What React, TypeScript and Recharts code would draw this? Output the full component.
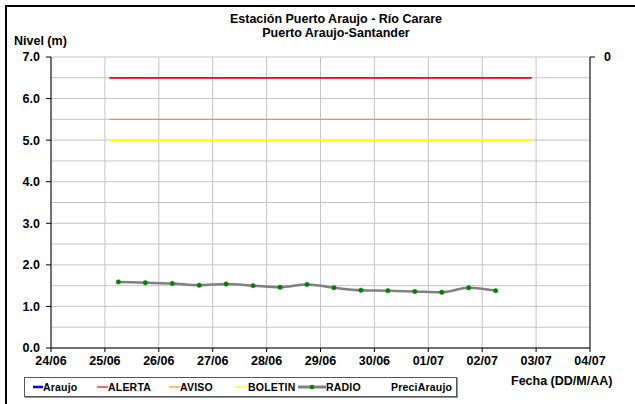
import React from 'react';
import {
    LineChart, Line, XAxis, YAxis, CartesianGrid,
} from 'recharts';

// Etiquetas del eje X (un día por división)
const dayLabels = ['24/06', '25/06', '26/06', '27/06', '28/06', '29/06', '30/06', '01/07', '02/07', '03/07', '04/07'];
const levelTicks = [0, 1, 2, 3, 4, 5, 6, 7];
const minorLevels = [0.5, 1.5, 2.5, 3.5, 4.5, 5.5, 6.5];

// Lecturas RADIO
const radioTimes = [
    '25/06 06:00', '25/06 18:00', '26/06 06:00', '26/06 18:00', '27/06 06:00',
    '27/06 18:00', '28/06 06:00', '28/06 18:00', '29/06 06:00', '29/06 18:00',
    '30/06 06:00', '30/06 18:00', '01/07 06:00', '01/07 18:00', '02/07 06:00',
];
const radioLevels = [1.59, 1.57, 1.55, 1.51, 1.54, 1.50, 1.46, 1.53, 1.45, 1.39, 1.38, 1.36, 1.34, 1.45, 1.38];

// Umbrales
const thresholdTimes = ['25/06 02:00', '02/07 22:00'];
const alerta = 6.5;
const aviso = 5.5;
const boletin = 5.0;

const toDays = (s: string) => {
    const [date, time] = s.split(' ');
    const [d, m] = date.split('/').map(Number);
    const [h, min] = (time || '00:00').split(':').map(Number);
    const base = Date.UTC(2012, 5, 24);
    return (Date.UTC(2012, m - 1, d, h, min) - base) / 86400000;
};

const radioData = radioTimes.map((t, i) => ({ x: toDays(t), y: radioLevels[i] }));
const lineData = (v: number) => thresholdTimes.map(t => ({ x: toDays(t), y: v }));

const FONT = '"Liberation Sans", Arial, sans-serif';
const tickStyle = { fontSize: 12.5, fontWeight: 700, fill: '#000', fontFamily: FONT };

// leyenda: posición x del símbolo y del texto dentro del recuadro
const legendItems = [
    { name: 'Araujo', color: '#0000ff', w: 2.5, x: 8, len: 10 },
    { name: 'ALERTA', color: '#ff0000', w: 1.2, x: 72, len: 11 },
    { name: 'AVISO', color: '#ff9900', w: 1.2, x: 144, len: 11 },
    { name: 'BOLETIN', color: '#ffff00', w: 1.2, x: 209, len: 14 },
    { name: 'RADIO', color: '#808080', w: 3, x: 273, len: 28, dot: true },
    { name: 'PreciAraujo', color: 'transparent', w: 0, x: 366, len: 0 },
];

export default function App() {
    return (
        <div style={{ position: 'absolute', left: 0, top: 0, width: 635, height: 404, overflow: 'hidden', background: '#fff', fontFamily: FONT }}>
            <style>{`.recharts-cartesian-axis-tick-value { font-weight: 700; }`}</style>
            <div style={{ position: 'absolute', left: 5, top: 5, width: 660, height: 420, border: '2.5px solid #000' }} />
            <div style={{ position: 'absolute', left: 136, top: 12, width: 400, textAlign: 'center', fontSize: 12.5, fontWeight: 700, lineHeight: '14px' }}>
                Estación Puerto Araujo - Río Carare<br />Puerto Araujo-Santander
            </div>
            <div style={{ position: 'absolute', left: 14, top: 34, fontSize: 12.5, fontWeight: 700, lineHeight: '15px' }}>Nivel (m)</div>
            <div style={{ position: 'absolute', left: 511, top: 374, fontSize: 12.5, fontWeight: 700, lineHeight: '15px' }}>Fecha (DD/M/AA)</div>

            <div style={{ position: 'absolute', left: 0, top: 0 }}>
                <LineChart width={635} height={404} margin={{ top: 57, right: 0, bottom: 26, left: 11 }}>
                    <CartesianGrid
                        yAxisId="left"
                        stroke="#c4c4c4"
                        horizontalValues={[...levelTicks, ...minorLevels]}
                        verticalValues={dayLabels.map((_, i) => i)}
                    />
                    <XAxis
                        dataKey="x"
                        type="number"
                        domain={[0, 10]}
                        ticks={dayLabels.map((_, i) => i)}
                        interval={0}
                        tickFormatter={(v: number) => dayLabels[v] ?? ''}
                        tick={tickStyle}
                        tickSize={4}
                        tickMargin={4}
                        stroke="#000"
                        height={30}
                        allowDataOverflow
                    />
                    <YAxis
                        yAxisId="left"
                        type="number"
                        domain={[0, 7]}
                        ticks={levelTicks}
                        interval={0}
                        tickFormatter={(v: number) => v.toFixed(1)}
                        tick={tickStyle}
                        tickSize={5}
                        tickMargin={6}
                        stroke="#000"
                        width={40}
                        allowDataOverflow
                    />
                    <YAxis
                        yAxisId="right"
                        orientation="right"
                        type="number"
                        domain={[-1, 0]}
                        ticks={[0]}
                        interval={0}
                        tick={tickStyle}
                        tickSize={5}
                        tickMargin={9}
                        stroke="#000"
                        width={45}
                        allowDataOverflow
                    />
                    <Line yAxisId="left" data={lineData(alerta)} dataKey="y" stroke="#ff0000" strokeWidth={1.7} dot={false} isAnimationActive={false} />
                    <Line yAxisId="left" data={lineData(aviso)} dataKey="y" stroke="#ff9900" strokeWidth={1.4} dot={false} isAnimationActive={false} />
                    <Line yAxisId="left" data={lineData(boletin)} dataKey="y" stroke="#ffff00" strokeWidth={2} dot={false} isAnimationActive={false} />
                    <Line
                        yAxisId="left"
                        data={radioData}
                        dataKey="y"
                        type="monotone"
                        stroke="#808080"
                        strokeWidth={2.5}
                        dot={{ r: 2.2, fill: '#008000', stroke: '#008000', strokeWidth: 0.5 }}
                        isAnimationActive={false}
                    />
                </LineChart>
            </div>

            <div style={{
                position: 'absolute', left: 24, top: 377, width: 431, height: 18,
                border: '1px solid #555', boxShadow: '1px 1px 0 #999', background: '#fff',
                fontSize: 10.5, fontWeight: 700,
            }}>
                {legendItems.map(it => (
                    <div key={it.name} style={{ position: 'absolute', left: it.x, top: 0, height: 18, display: 'flex', alignItems: 'center' }}>
                        {it.w > 0 && (
                            <svg width={it.len} height={8} style={{ display: 'block' }}>
                                <line x1={0} y1={4} x2={it.len} y2={4} stroke={it.color} strokeWidth={it.w} />
                                {it.dot && <circle cx={it.len / 2} cy={4} r={2.3} fill="#008000" />}
                            </svg>
                        )}
                        <span style={{ letterSpacing: 0.2 }}>{it.name}</span>
                    </div>
                ))}
            </div>
        </div>
    );
}
